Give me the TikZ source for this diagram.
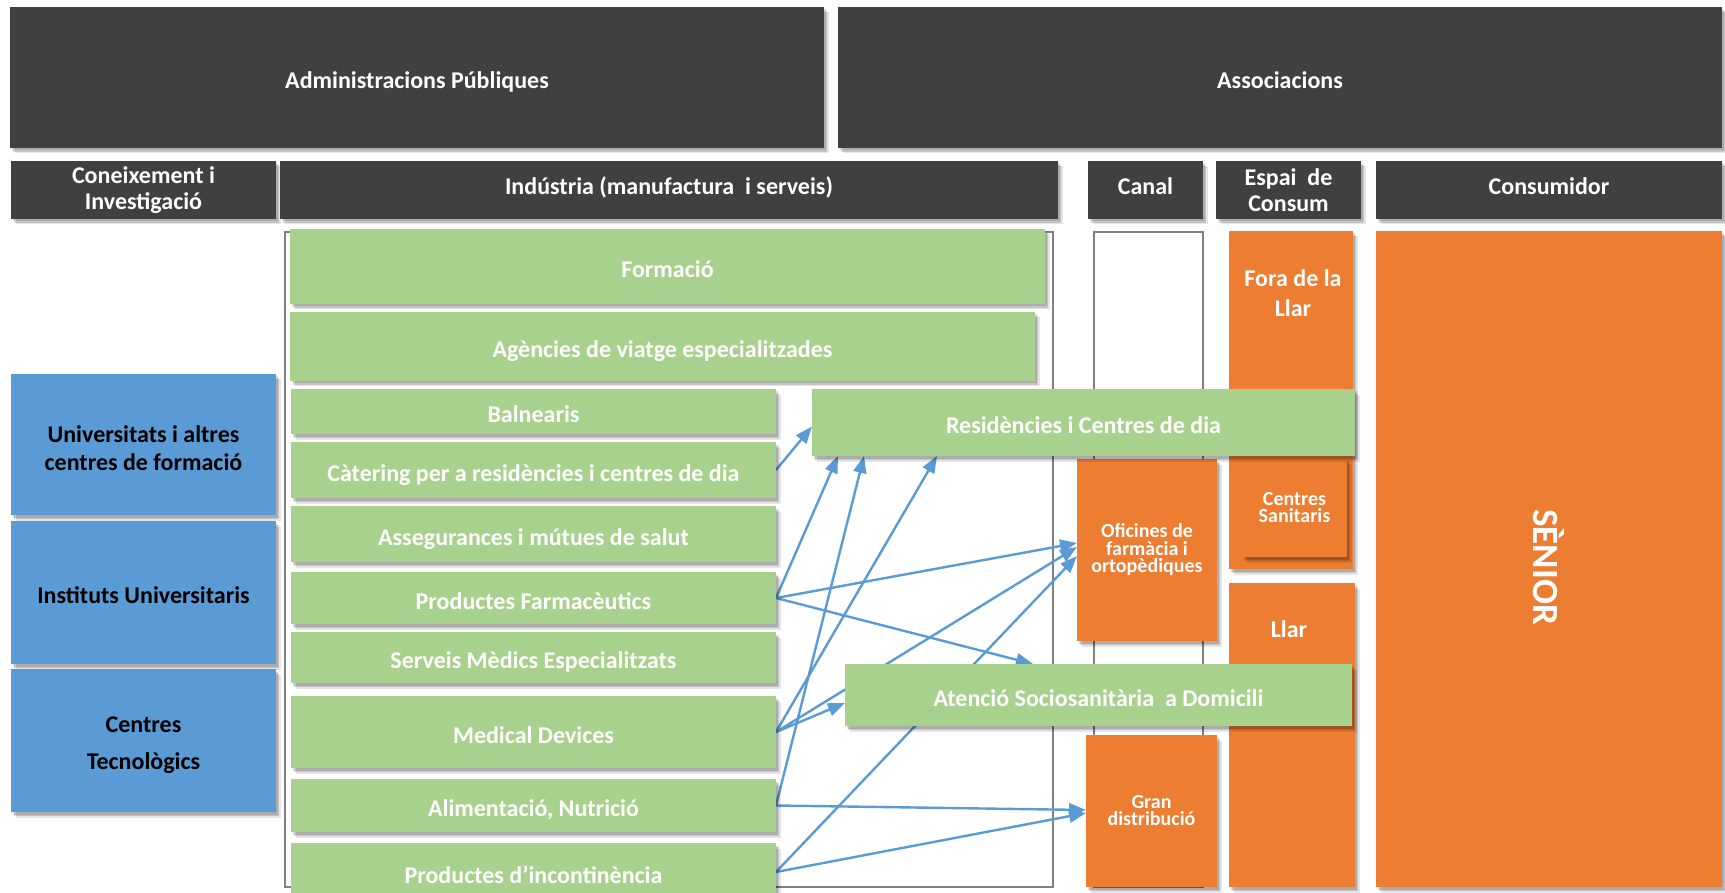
\documentclass[tikz,border=0pt]{standalone}
\usepackage{fontspec}
\setmainfont{Carlito}
\usetikzlibrary{arrows.meta,calc,shadows}
\definecolor{dk}{HTML}{404040}
\definecolor{gr}{HTML}{A9D18E}
\definecolor{org}{HTML}{ED7D31}
\definecolor{bl}{HTML}{5B9BD5}
\definecolor{fr}{HTML}{808080}
\pgfdeclarelayer{bg}
\pgfdeclarelayer{arr}
\pgfsetlayers{bg,arr,main}
\tikzset{
  shad/.style={
    drop shadow={shadow xshift=1.5pt, shadow yshift=-2.5pt, opacity=.12, fill=black},
    drop shadow={shadow xshift=3pt, shadow yshift=-4pt, opacity=.14, fill=black},
    drop shadow={shadow xshift=4.5pt, shadow yshift=-5.5pt, opacity=.10, fill=black}},
  base/.style={inner sep=0pt, outer sep=0pt, anchor=north west, align=center,
    font=\bfseries\fontsize{24}{26}\selectfont, shad},
  one/.style={text height=22pt, text depth=0pt},
  onehd/.style={text height=14pt, text depth=4pt},
  dkbox/.style={base, fill=dk, text=white},
  grbox/.style={base, one, fill=gr, text=white},
  orbox/.style={base, fill=org, text=white},
  blbox/.style={base, fill=bl, text=black},
  framebox/.style={inner sep=0pt, outer sep=0pt, anchor=north west, draw=fr, line width=1.8pt},
  lbl/.style={inner sep=0pt, align=center, text=white, font=\bfseries\fontsize{24}{30}\selectfont},
  conn/.style={draw=bl, line width=2.4pt, -{Triangle[length=17pt,width=13pt]}},
}
\newcommand\bx[7]{\node[#1, minimum width={#5-#3}, minimum height={#6-#4}] (#2) at (#3,#4) {#7};}
\begin{document}
\begin{tikzpicture}[x=1pt,y=-1pt]
\useasboundingbox (0,0) rectangle (1725,893);
\begin{pgfonlayer}{bg}
\fill[white] (0,0) rectangle (1725,893);
\bx{framebox}{find}{285}{232}{1053}{887}{}
\bx{framebox}{fcan}{1094}{232}{1203}{887}{}
\end{pgfonlayer}
% top row
\bx{dkbox, one}{adm}{10}{7}{824}{148}{Administracions Públiques}
\bx{dkbox, one}{ass}{838}{7}{1722}{148}{Associacions}
% header row
\bx{dkbox}{hcon}{11}{161}{276}{219}{Coneixement i\\Investigació}
\bx{dkbox, onehd}{hind}{280}{161}{1058}{219}{Indústria (manufactura\ \ i serveis)}
\bx{dkbox, onehd}{hcan}{1088}{161}{1203}{219}{Canal}
\bx{dkbox}{hesp}{1216}{161}{1361}{219}{Espai\ \ de\\Consum}
\bx{dkbox, onehd}{hcons}{1376}{161}{1722}{219}{Consumidor}
% blue
\bx{blbox}{uni}{11}{374}{276}{515}{}
\node[lbl, text=black, font=\bfseries\fontsize{24}{28}\selectfont] (unitxt) at ($(uni.center)+(0,4)$) {Universitats i altres\\centres de formació};
\bx{blbox, one}{ins}{11}{521}{276}{664}{Instituts Universitaris}
\bx{blbox}{ctec}{11}{669}{276}{812}{}
\node[lbl, text=black, font=\bfseries\fontsize{24}{37}\selectfont] (ctectxt) at ($(ctec.center)+(0,5)$) {Centres\\Tecnològics};
% green
\bx{grbox}{form}{290}{229}{1045}{304}{Formació}
\bx{grbox}{agen}{290}{312}{1035}{381}{Agències de viatge especialitzades}
\bx{grbox}{baln}{291}{389}{776}{434}{Balnearis}
\bx{grbox}{cat}{291}{442}{776}{498}{Càtering per a residències i centres de dia}
\bx{grbox}{aseg}{291}{506}{776}{562}{Assegurances i mútues de salut}
\bx{grbox}{pf}{291}{572}{776}{624}{Productes Farmacèutics}
\bx{grbox}{serv}{291}{632}{776}{683}{Serveis Mèdics Especialitzats}
\bx{grbox}{md}{291}{696}{776}{768}{Medical Devices}
\bx{grbox}{ali}{291}{779}{776}{832}{Alimentació, Nutrició}
\bx{grbox}{pdi}{291}{843}{776}{901}{Productes d’incontinència}
% espai de consum / consumidor
\bx{orbox}{fora}{1229}{231}{1353}{569}{}
\node[lbl] (foratxt) at (1293,293) {Fora de la\\Llar};
\bx{orbox, font=\bfseries\fontsize{20}{17}\selectfont}{csan}{1242}{458}{1347}{557}{Centres\\Sanitaris}
\bx{orbox}{llar}{1229}{583}{1355}{887}{}
\node[lbl] (llartxt) at (1289,629) {Llar};
\bx{orbox}{sen}{1376}{231}{1722}{887}{}
\node[lbl, rotate=-90, font=\bfseries\fontsize{37}{40}\selectfont] (sentxt) at ($(sen.center)+(0,8)$) {SÈNIOR};
% canal
\bx{orbox, font=\bfseries\fontsize{20}{17.5}\selectfont}{ofi}{1077}{459}{1217}{641}{Oficines de\\farmàcia i\\ortopèdiques}
\bx{orbox, font=\bfseries\fontsize{20}{17}\selectfont}{gran}{1086}{735}{1217}{887}{Gran\\distribució}
% residencies
\bx{grbox}{res}{812}{389}{1355}{456}{Residències i Centres de dia}
% atencio
\bx{grbox}{ate}{845}{664}{1352}{726}{Atenció Sociosanitària\ \ a Domicili}
% connectors (behind the boxes)
\begin{pgfonlayer}{arr}
\draw[conn] (cat.east) -- ($(res.west)+(0,4)$);
\draw[conn] (pf.east) -- ($(res.south west)+(26,0)$);
\draw[conn] (md.east) -- ($(res.south west)+(125,0)$);
\draw[conn] (ali.east) -- ($(res.south west)+(52,0)$);
\draw[conn] (pf.east) -- ($(ofi.west)+(0,-7)$);
\draw[conn] (md.east) -- ($(ofi.west)+(0,-3)$);
\draw[conn] (pdi.east) -- ($(ofi.west)+(0,6)$);
\draw[conn] (pf.east) -- ($(ate.north west)+(188,0)$);
\draw[conn] (md.east) -- ($(ate.west)+(0,8)$);
\draw[conn] (ali.east) -- ($(gran.west)+(0,-1)$);
\draw[conn] (pdi.east) -- ($(gran.west)+(0,2)$);
\end{pgfonlayer}
\end{tikzpicture}
\end{document}
